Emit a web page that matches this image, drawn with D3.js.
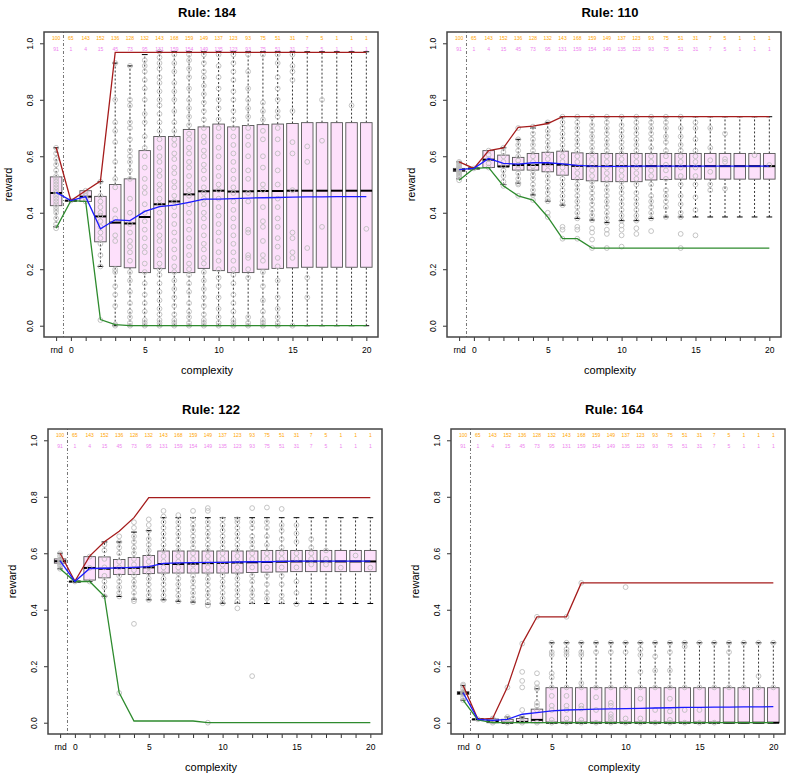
<!DOCTYPE html>
<html>
<head>
<meta charset="utf-8">
<script src="https://cdn.jsdelivr.net/npm/d3@7"></script>
<style>
  body { margin: 0; background: #fff; }
  svg { display: block; font-family: "Liberation Sans", Arial, Helvetica, sans-serif; }
</style>
</head>
<body>
<div id="chart"></div>
<script>
// complexity positions, -1 stands for "rnd"
const positions = d3.range(-1, 21);
const xTickLabels = { '-1': 'rnd', 0: '0', 5: '5', 10: '10', 15: '15', 20: '20' };
const yTicks = [0, 0.2, 0.4, 0.6, 0.8, 1.0];

const countsTop = [100, 65, 143, 152, 136, 128, 132, 143, 168, 159, 149, 137, 123, 93, 75, 51, 31, 7, 5, 1, 1, 1];
const countsBottom = [91, 1, 4, 15, 45, 73, 95, 131, 159, 154, 149, 135, 123, 93, 75, 51, 31, 7, 5, 1, 1, 1];

// ---- Rule 184 ----
// [lower whisker, q1, median, q3, upper whisker]
const stats184 = [
  [0.35, 0.425, 0.47, 0.527, 0.63],
  [0.443, 0.443, 0.443, 0.443, 0.443],
  [0.44, 0.44, 0.457, 0.478, 0.478],
  [0.21, 0.297, 0.387, 0.458, 0.51],
  [0.0, 0.21, 0.365, 0.50, 0.93],
  [0.0, 0.205, 0.362, 0.52, 0.92],
  [0.0, 0.188, 0.385, 0.62, 0.96],
  [0.0, 0.202, 0.43, 0.67, 0.97],
  [0.0, 0.188, 0.44, 0.67, 0.97],
  [0.0, 0.188, 0.465, 0.695, 0.97],
  [0.0, 0.203, 0.476, 0.704, 0.97],
  [0.0, 0.195, 0.478, 0.714, 0.97],
  [0.0, 0.188, 0.475, 0.704, 0.97],
  [0.0, 0.188, 0.476, 0.709, 0.97],
  [0.0, 0.2, 0.477, 0.712, 0.97],
  [0.0, 0.203, 0.477, 0.714, 0.97],
  [0.0, 0.205, 0.478, 0.716, 0.97],
  [0.0, 0.207, 0.478, 0.719, 0.97],
  [0.0, 0.207, 0.478, 0.719, 0.97],
  [0.0, 0.207, 0.478, 0.719, 0.97],
  [0.0, 0.207, 0.478, 0.719, 0.97],
  [0.0, 0.207, 0.478, 0.719, 0.97]
];
const max184 = [0.632, 0.443, 0.478, 0.512, 0.968, 0.968, 0.968, 0.968, 0.968, 0.968, 0.968, 0.968, 0.968, 0.968, 0.968, 0.968, 0.968, 0.968, 0.968, 0.968, 0.968, 0.968];
const min184 = [0.345, 0.443, 0.44, 0.022, 0.004, 0.0, 0.0, 0.0, 0.0, 0.0, 0.0, 0.0, 0.0, 0.0, 0.0, 0.0, 0.0, 0.0, 0.0, 0.0, 0.0, 0.0];
const mean184 = [0.472, 0.443, 0.457, 0.343, 0.375, 0.372, 0.405, 0.422, 0.427, 0.437, 0.448, 0.448, 0.45, 0.452, 0.453, 0.454, 0.455, 0.456, 0.456, 0.457, 0.457, 0.457];
const points184 = [
  [0.345, 0.36, 0.38, 0.40, 0.41, 0.42, 0.43, 0.44, 0.45, 0.46, 0.47, 0.48, 0.49, 0.50, 0.51, 0.52, 0.53, 0.55, 0.57, 0.59, 0.61, 0.63],
  [0.443],
  [0.44, 0.45, 0.46, 0.47, 0.478],
  [0.02, 0.21, 0.25, 0.29, 0.31, 0.33, 0.35, 0.37, 0.39, 0.40, 0.42, 0.44, 0.46, 0.51],
  [0.0, 0.005, 0.07, 0.11, 0.14, 0.19, 0.2, 0.3, 0.32, 0.38, 0.41, 0.49, 0.52, 0.58, 0.65, 0.69, 0.72, 0.8, 0.93],
  [0.0, 0.01, 0.03, 0.05, 0.08, 0.12, 0.16, 0.19, 0.23, 0.26, 0.28, 0.3, 0.33, 0.36, 0.4, 0.45, 0.52, 0.55, 0.58, 0.6, 0.62, 0.66, 0.7, 0.72, 0.78, 0.8, 0.92],
  [0.0, 0.01, 0.02, 0.05, 0.08, 0.11, 0.15, 0.19, 0.22, 0.26, 0.28, 0.31, 0.34, 0.37, 0.4, 0.43, 0.47, 0.49, 0.52, 0.56, 0.6, 0.63, 0.67, 0.72, 0.75, 0.8, 0.84, 0.87, 0.9, 0.92, 0.94],
  [0.0, 0.01, 0.02, 0.04, 0.06, 0.09, 0.12, 0.15, 0.18, 0.2, 0.22, 0.25, 0.27, 0.3, 0.32, 0.35, 0.37, 0.4, 0.43, 0.45, 0.48, 0.5, 0.53, 0.55, 0.58, 0.6, 0.63, 0.66, 0.69, 0.72, 0.75, 0.78, 0.8, 0.83, 0.86, 0.88, 0.91, 0.93, 0.95, 0.97],
  [0.0, 0.01, 0.02, 0.04, 0.07, 0.1, 0.13, 0.16, 0.19, 0.21, 0.24, 0.27, 0.3, 0.33, 0.36, 0.39, 0.42, 0.44, 0.46, 0.49, 0.51, 0.54, 0.56, 0.59, 0.61, 0.64, 0.66, 0.69, 0.72, 0.76, 0.8, 0.83, 0.86, 0.9, 0.93, 0.96],
  [0.0, 0.01, 0.03, 0.05, 0.08, 0.12, 0.15, 0.18, 0.2, 0.22, 0.25, 0.28, 0.31, 0.34, 0.37, 0.4, 0.43, 0.46, 0.48, 0.5, 0.53, 0.56, 0.58, 0.61, 0.63, 0.66, 0.68, 0.71, 0.74, 0.77, 0.8, 0.84, 0.88, 0.91, 0.94, 0.96],
  [0.0, 0.01, 0.02, 0.04, 0.07, 0.1, 0.13, 0.16, 0.19, 0.22, 0.24, 0.27, 0.29, 0.32, 0.35, 0.38, 0.4, 0.43, 0.45, 0.47, 0.49, 0.52, 0.55, 0.57, 0.6, 0.62, 0.65, 0.67, 0.7, 0.73, 0.76, 0.79, 0.82, 0.85, 0.88, 0.9, 0.93, 0.96],
  [0.0, 0.01, 0.03, 0.06, 0.1, 0.14, 0.17, 0.2, 0.23, 0.26, 0.3, 0.33, 0.36, 0.39, 0.42, 0.45, 0.48, 0.5, 0.53, 0.56, 0.6, 0.63, 0.67, 0.7, 0.73, 0.77, 0.8, 0.84, 0.88, 0.92, 0.96],
  [0.0, 0.01, 0.02, 0.05, 0.08, 0.11, 0.15, 0.18, 0.2, 0.23, 0.26, 0.29, 0.32, 0.35, 0.38, 0.41, 0.44, 0.47, 0.49, 0.52, 0.55, 0.58, 0.61, 0.64, 0.67, 0.7, 0.73, 0.76, 0.8, 0.83, 0.87, 0.9, 0.93, 0.96],
  [0.0, 0.01, 0.03, 0.17, 0.2, 0.24, 0.25, 0.33, 0.34, 0.44, 0.47, 0.52, 0.55, 0.6, 0.64, 0.67, 0.7, 0.74, 0.77, 0.8, 0.84, 0.9, 0.96],
  [0.0, 0.01, 0.02, 0.05, 0.09, 0.14, 0.19, 0.23, 0.25, 0.3, 0.35, 0.37, 0.42, 0.48, 0.5, 0.56, 0.6, 0.66, 0.69, 0.73, 0.76, 0.79, 0.96],
  [0.0, 0.01, 0.03, 0.06, 0.1, 0.16, 0.21, 0.24, 0.28, 0.31, 0.35, 0.38, 0.42, 0.45, 0.5, 0.55, 0.61, 0.66, 0.7, 0.74, 0.76, 0.8, 0.84, 0.88, 0.93, 0.96],
  [0.0, 0.24, 0.26, 0.31, 0.33, 0.48, 0.61, 0.65, 0.76, 0.87, 0.9, 0.92, 0.96],
  [0.1, 0.17, 0.275, 0.58, 0.635],
  [0.35, 0.655, 0.8],
  [],
  [0.78],
  [0.343]
];

// ---- Rule 110 ----
const stats110 = [
  [0.52, 0.546, 0.552, 0.557, 0.58],
  [0.557, 0.557, 0.557, 0.557, 0.557],
  [0.56, 0.56, 0.588, 0.62, 0.62],
  [0.50, 0.563, 0.564, 0.604, 0.63],
  [0.505, 0.551, 0.569, 0.596, 0.66],
  [0.463, 0.551, 0.569, 0.61, 0.70],
  [0.441, 0.545, 0.572, 0.614, 0.72],
  [0.427, 0.533, 0.57, 0.618, 0.74],
  [0.38, 0.518, 0.566, 0.612, 0.74],
  [0.374, 0.513, 0.565, 0.61, 0.74],
  [0.365, 0.51, 0.565, 0.61, 0.74],
  [0.372, 0.51, 0.565, 0.61, 0.74],
  [0.372, 0.51, 0.565, 0.61, 0.74],
  [0.38, 0.516, 0.565, 0.61, 0.74],
  [0.385, 0.518, 0.565, 0.61, 0.74],
  [0.385, 0.519, 0.565, 0.61, 0.74],
  [0.385, 0.519, 0.565, 0.61, 0.74],
  [0.385, 0.519, 0.565, 0.61, 0.74],
  [0.385, 0.519, 0.565, 0.61, 0.74],
  [0.385, 0.519, 0.565, 0.61, 0.74],
  [0.385, 0.519, 0.565, 0.61, 0.74],
  [0.385, 0.519, 0.565, 0.61, 0.74]
];
const max110 = [0.58, 0.557, 0.62, 0.63, 0.702, 0.707, 0.716, 0.74, 0.74, 0.74, 0.74, 0.74, 0.74, 0.74, 0.74, 0.74, 0.74, 0.74, 0.74, 0.74, 0.74, 0.74];
const min110 = [0.515, 0.557, 0.56, 0.495, 0.46, 0.445, 0.385, 0.308, 0.308, 0.275, 0.275, 0.275, 0.275, 0.275, 0.275, 0.275, 0.275, 0.275, 0.275, 0.275, 0.275, 0.275];
const mean110 = [0.553, 0.557, 0.592, 0.575, 0.572, 0.577, 0.577, 0.573, 0.568, 0.565, 0.564, 0.564, 0.565, 0.565, 0.565, 0.565, 0.565, 0.565, 0.565, 0.565, 0.565, 0.565];
const points110 = [
  [0.515, 0.525, 0.53, 0.535, 0.54, 0.545, 0.548, 0.55, 0.552, 0.555, 0.558, 0.56, 0.565, 0.57, 0.575, 0.58],
  [0.557],
  [0.56, 0.575, 0.59, 0.605, 0.62],
  [0.495, 0.51, 0.53, 0.55, 0.565, 0.58, 0.6, 0.615, 0.63],
  [0.46, 0.5, 0.505, 0.52, 0.54, 0.555, 0.57, 0.585, 0.6, 0.62, 0.64, 0.66, 0.70],
  [0.445, 0.463, 0.48, 0.5, 0.52, 0.535, 0.55, 0.565, 0.58, 0.6, 0.62, 0.64, 0.66, 0.68, 0.705],
  [0.385, 0.40, 0.441, 0.45, 0.47, 0.49, 0.51, 0.53, 0.55, 0.57, 0.59, 0.61, 0.63, 0.65, 0.67, 0.69, 0.72],
  [0.308, 0.34, 0.35, 0.427, 0.44, 0.46, 0.48, 0.5, 0.52, 0.54, 0.56, 0.58, 0.6, 0.62, 0.64, 0.66, 0.68, 0.7, 0.72, 0.74],
  [0.308, 0.34, 0.35, 0.38, 0.4, 0.42, 0.44, 0.46, 0.48, 0.5, 0.52, 0.54, 0.56, 0.58, 0.6, 0.62, 0.64, 0.66, 0.68, 0.7, 0.72, 0.74],
  [0.275, 0.305, 0.33, 0.345, 0.374, 0.39, 0.41, 0.43, 0.45, 0.47, 0.49, 0.51, 0.53, 0.55, 0.57, 0.59, 0.61, 0.63, 0.65, 0.67, 0.69, 0.71, 0.74],
  [0.275, 0.325, 0.34, 0.365, 0.38, 0.4, 0.42, 0.44, 0.46, 0.48, 0.5, 0.52, 0.54, 0.56, 0.58, 0.6, 0.62, 0.64, 0.66, 0.68, 0.7, 0.72, 0.74],
  [0.28, 0.32, 0.34, 0.355, 0.372, 0.39, 0.41, 0.43, 0.45, 0.47, 0.49, 0.51, 0.53, 0.55, 0.57, 0.59, 0.61, 0.63, 0.65, 0.67, 0.69, 0.71, 0.74],
  [0.325, 0.345, 0.372, 0.39, 0.41, 0.43, 0.45, 0.47, 0.5, 0.52, 0.54, 0.56, 0.58, 0.6, 0.62, 0.64, 0.66, 0.68, 0.7, 0.72, 0.74],
  [0.335, 0.38, 0.4, 0.42, 0.44, 0.46, 0.5, 0.53, 0.55, 0.58, 0.6, 0.63, 0.66, 0.68, 0.7, 0.72, 0.74],
  [0.385, 0.42, 0.44, 0.46, 0.48, 0.52, 0.55, 0.57, 0.6, 0.62, 0.65, 0.67, 0.7, 0.72, 0.74],
  [0.275, 0.325, 0.385, 0.4, 0.43, 0.46, 0.5, 0.53, 0.56, 0.58, 0.6, 0.62, 0.64, 0.67, 0.7, 0.74],
  [0.32, 0.41, 0.455, 0.5, 0.53, 0.56, 0.58, 0.6, 0.62, 0.66, 0.7, 0.72],
  [0.48, 0.5, 0.545, 0.586, 0.63, 0.7],
  [0.485, 0.58, 0.59, 0.68],
  [],
  [0.604],
  [0.569]
];

// ---- Rule 122 ----
const stats122 = [
  [0.545, 0.565, 0.572, 0.58, 0.60],
  [0.5, 0.5, 0.5, 0.5, 0.5],
  [0.5, 0.505, 0.548, 0.588, 0.588],
  [0.448, 0.513, 0.545, 0.587, 0.64],
  [0.447, 0.525, 0.548, 0.578, 0.64],
  [0.437, 0.525, 0.548, 0.585, 0.675],
  [0.435, 0.528, 0.55, 0.592, 0.68],
  [0.435, 0.53, 0.562, 0.608, 0.726],
  [0.43, 0.53, 0.562, 0.608, 0.726],
  [0.427, 0.53, 0.563, 0.608, 0.726],
  [0.42, 0.53, 0.565, 0.608, 0.726],
  [0.423, 0.53, 0.566, 0.608, 0.726],
  [0.423, 0.53, 0.567, 0.608, 0.726],
  [0.422, 0.532, 0.568, 0.608, 0.726],
  [0.422, 0.533, 0.569, 0.61, 0.726],
  [0.422, 0.534, 0.57, 0.61, 0.726],
  [0.422, 0.535, 0.571, 0.61, 0.726],
  [0.422, 0.535, 0.571, 0.61, 0.726],
  [0.422, 0.535, 0.571, 0.61, 0.726],
  [0.422, 0.535, 0.571, 0.61, 0.726],
  [0.422, 0.535, 0.571, 0.61, 0.726],
  [0.422, 0.535, 0.571, 0.61, 0.726]
];
const max122 = [0.60, 0.501, 0.59, 0.641, 0.678, 0.726, 0.797, 0.797, 0.797, 0.797, 0.797, 0.797, 0.797, 0.797, 0.797, 0.797, 0.797, 0.797, 0.797, 0.797, 0.797, 0.797];
const min122 = [0.545, 0.5, 0.5, 0.448, 0.106, 0.006, 0.006, 0.006, 0.006, 0.006, 0.0, 0.0, 0.0, 0.0, 0.0, 0.0, 0.0, 0.0, 0.0, 0.0, 0.0, 0.0];
const mean122 = [0.573, 0.5, 0.546, 0.547, 0.548, 0.55, 0.553, 0.564, 0.566, 0.567, 0.568, 0.568, 0.569, 0.57, 0.57, 0.571, 0.572, 0.572, 0.572, 0.572, 0.572, 0.572];
const points122 = [
  [0.545, 0.555, 0.56, 0.565, 0.57, 0.575, 0.58, 0.59, 0.6],
  [0.5],
  [0.5, 0.548, 0.588],
  [0.448, 0.48, 0.5, 0.52, 0.55, 0.58, 0.61, 0.63],
  [0.105, 0.447, 0.46, 0.48, 0.5, 0.52, 0.55, 0.57, 0.6, 0.62, 0.64, 0.66],
  [0.35, 0.43, 0.437, 0.46, 0.48, 0.5, 0.52, 0.54, 0.56, 0.58, 0.6, 0.62, 0.64, 0.66, 0.69, 0.71],
  [0.435, 0.45, 0.47, 0.49, 0.51, 0.53, 0.55, 0.57, 0.59, 0.61, 0.63, 0.65, 0.68, 0.7, 0.72],
  [0.435, 0.45, 0.47, 0.49, 0.51, 0.53, 0.55, 0.57, 0.59, 0.61, 0.63, 0.65, 0.67, 0.69, 0.71, 0.73, 0.75],
  [0.43, 0.45, 0.47, 0.49, 0.51, 0.53, 0.55, 0.57, 0.59, 0.61, 0.63, 0.65, 0.67, 0.69, 0.71, 0.735],
  [0.427, 0.44, 0.46, 0.48, 0.5, 0.52, 0.54, 0.56, 0.58, 0.6, 0.62, 0.64, 0.66, 0.68, 0.7, 0.72, 0.75],
  [0.0, 0.415, 0.43, 0.45, 0.47, 0.49, 0.51, 0.53, 0.55, 0.57, 0.59, 0.61, 0.63, 0.65, 0.67, 0.69, 0.71, 0.75, 0.76],
  [0.423, 0.44, 0.46, 0.48, 0.5, 0.52, 0.54, 0.56, 0.58, 0.6, 0.62, 0.64, 0.66, 0.68, 0.7, 0.72],
  [0.405, 0.43, 0.45, 0.47, 0.49, 0.51, 0.53, 0.55, 0.57, 0.59, 0.61, 0.63, 0.65, 0.67, 0.69, 0.71, 0.72],
  [0.165, 0.43, 0.45, 0.47, 0.5, 0.52, 0.55, 0.58, 0.6, 0.62, 0.64, 0.66, 0.69, 0.71, 0.76],
  [0.44, 0.46, 0.49, 0.52, 0.55, 0.58, 0.6, 0.63, 0.66, 0.69, 0.71, 0.762],
  [0.43, 0.45, 0.49, 0.52, 0.55, 0.58, 0.6, 0.62, 0.65, 0.68, 0.7, 0.757],
  [0.42, 0.46, 0.5, 0.55, 0.58, 0.6, 0.64, 0.67, 0.7],
  [0.56, 0.58, 0.6, 0.62, 0.65],
  [0.56, 0.58, 0.61],
  [0.549],
  [0.592],
  [0.549]
];

// ---- Rule 164 ----
const stats164 = [
  [0.08, 0.1, 0.105, 0.11, 0.132],
  [0.012, 0.012, 0.012, 0.012, 0.012],
  [0.0, 0.0, 0.005, 0.013, 0.015],
  [0.0, 0.0, 0.0, 0.012, 0.02],
  [0.0, 0.0, 0.003, 0.015, 0.02],
  [0.0, 0.0, 0.01, 0.048, 0.12],
  [0.0, 0.0, 0.0, 0.124, 0.283],
  [0.0, 0.0, 0.0, 0.124, 0.283],
  [0.0, 0.0, 0.0, 0.124, 0.283],
  [0.0, 0.0, 0.0, 0.124, 0.283],
  [0.0, 0.0, 0.0, 0.124, 0.283],
  [0.0, 0.0, 0.0, 0.124, 0.283],
  [0.0, 0.0, 0.0, 0.124, 0.283],
  [0.0, 0.0, 0.0, 0.124, 0.283],
  [0.0, 0.0, 0.0, 0.124, 0.283],
  [0.0, 0.0, 0.0, 0.124, 0.283],
  [0.0, 0.0, 0.0, 0.124, 0.283],
  [0.0, 0.0, 0.0, 0.124, 0.283],
  [0.0, 0.0, 0.0, 0.124, 0.283],
  [0.0, 0.0, 0.0, 0.124, 0.283],
  [0.0, 0.0, 0.0, 0.124, 0.283],
  [0.0, 0.0, 0.0, 0.124, 0.283]
];
const max164 = [0.132, 0.012, 0.015, 0.126, 0.28, 0.375, 0.375, 0.375, 0.495, 0.495, 0.495, 0.495, 0.495, 0.495, 0.495, 0.495, 0.495, 0.495, 0.495, 0.495, 0.495, 0.495];
const min164 = [0.08, 0.01, 0.0, 0.0, 0.0, 0.0, 0.0, 0.0, 0.0, 0.0, 0.0, 0.0, 0.0, 0.0, 0.0, 0.0, 0.0, 0.0, 0.0, 0.0, 0.0, 0.0];
const mean164 = [0.106, 0.012, 0.008, 0.012, 0.03, 0.036, 0.042, 0.045, 0.046, 0.048, 0.049, 0.05, 0.051, 0.052, 0.053, 0.054, 0.054, 0.055, 0.055, 0.056, 0.056, 0.057];
const points164 = [
  [0.08, 0.09, 0.1, 0.105, 0.11, 0.12, 0.13, 0.135],
  [0.012],
  [0.0, 0.005, 0.012, 0.015],
  [0.0, 0.012, 0.02, 0.125],
  [0.0, 0.005, 0.02, 0.045, 0.125, 0.148, 0.18, 0.28],
  [0.0, 0.045, 0.06, 0.07, 0.12, 0.125, 0.14, 0.175, 0.375],
  [0.0, 0.01, 0.045, 0.06, 0.095, 0.125, 0.16, 0.175, 0.24, 0.25, 0.283],
  [0.0, 0.015, 0.045, 0.06, 0.095, 0.125, 0.24, 0.25, 0.26, 0.283, 0.375],
  [0.0, 0.01, 0.05, 0.06, 0.125, 0.14, 0.24, 0.25, 0.283, 0.495],
  [0.0, 0.045, 0.09, 0.125, 0.25, 0.283],
  [0.0, 0.01, 0.02, 0.03, 0.06, 0.07, 0.125, 0.25, 0.283],
  [0.0, 0.015, 0.125, 0.25, 0.283, 0.48],
  [0.0, 0.015, 0.085, 0.125, 0.18, 0.24, 0.26, 0.283],
  [0.0, 0.045, 0.125, 0.185, 0.235, 0.283],
  [0.0, 0.01, 0.04, 0.085, 0.125, 0.185, 0.25, 0.283],
  [0.0, 0.045, 0.125, 0.27, 0.283],
  [0.0, 0.045, 0.125, 0.283],
  [0.0, 0.125, 0.283],
  [0.125, 0.25, 0.283],
  [0.125, 0.283],
  [0.125, 0.165, 0.283],
  [0.125, 0.283]
];

const panels = [
  { title: 'Rule: 184', left: 44, top: 32, stats: stats184, points: points184, max: max184, min: min184, mean: mean184 },
  { title: 'Rule: 110', left: 447, top: 32, stats: stats110, points: points110, max: max110, min: min110, mean: mean110 },
  { title: 'Rule: 122', left: 48, top: 429, stats: stats122, points: points122, max: max122, min: min122, mean: mean122 },
  { title: 'Rule: 164', left: 451, top: 429, stats: stats164, points: points164, max: max164, min: min164, mean: mean164 }
];

const width = 790, height = 779;
const plotW = 334, plotH = 305;

const svg = d3.select('#chart').append('svg')
  .attr('width', width)
  .attr('height', height)
  .attr('viewBox', `0 0 ${width} ${height}`);

svg.append('rect').attr('width', width).attr('height', height).attr('fill', '#fff');

const x = d3.scaleLinear().domain([-1.82, 20.79]).range([0, plotW]);
const y = d3.scaleLinear().domain([-0.04, 1.04]).range([plotH, 0]);
const boxW = (x(1) - x(0)) * 0.78;

panels.forEach(p => drawPanel(p));

function drawPanel(p) {
  const g = svg.append('g').attr('transform', `translate(${p.left},${p.top})`);

  // title
  g.append('text')
    .attr('x', plotW / 2 - 4)
    .attr('y', -15)
    .attr('text-anchor', 'middle')
    .attr('font-size', 13)
    .attr('font-weight', 'bold')
    .attr('fill', '#000')
    .text(p.title);

  // boxes
  const boxes = g.append('g').selectAll('g')
    .data(p.stats)
    .join('g')
    .attr('transform', (d, i) => `translate(${x(positions[i])},0)`);

  // whiskers
  boxes.append('line')
    .attr('y1', d => y(d[0])).attr('y2', d => y(d[1]))
    .attr('stroke', '#000').attr('stroke-width', 0.8).attr('stroke-dasharray', '2,2');
  boxes.append('line')
    .attr('y1', d => y(d[3])).attr('y2', d => y(d[4]))
    .attr('stroke', '#000').attr('stroke-width', 0.8).attr('stroke-dasharray', '2,2');
  boxes.append('line')
    .attr('x1', -boxW / 4).attr('x2', boxW / 4)
    .attr('y1', d => y(d[0])).attr('y2', d => y(d[0]))
    .attr('stroke', '#000').attr('stroke-width', 1);
  boxes.append('line')
    .attr('x1', -boxW / 4).attr('x2', boxW / 4)
    .attr('y1', d => y(d[4])).attr('y2', d => y(d[4]))
    .attr('stroke', '#000').attr('stroke-width', 1);

  boxes.append('rect')
    .attr('x', -boxW / 2)
    .attr('width', boxW)
    .attr('y', d => y(d[3]))
    .attr('height', d => Math.max(0.5, y(d[1]) - y(d[3])))
    .attr('fill', '#fde0fb')
    .attr('stroke', '#555')
    .attr('stroke-width', 0.9);

  boxes.append('line')
    .attr('x1', -boxW / 2).attr('x2', boxW / 2)
    .attr('y1', d => y(d[2])).attr('y2', d => y(d[2]))
    .attr('stroke', '#000').attr('stroke-width', 2);

  // individual points
  const pts = [];
  p.points.forEach((vals, i) => vals.forEach(v => pts.push({ pos: positions[i], v })));
  g.append('g').selectAll('circle')
    .data(pts)
    .join('circle')
    .attr('cx', d => x(d.pos))
    .attr('cy', d => y(d.v))
    .attr('r', 2.4)
    .attr('fill', 'none')
    .attr('stroke', '#bdbdbd')
    .attr('stroke-width', 0.9);

  // separator between rnd and complexity 0
  g.append('line')
    .attr('x1', x(-0.5)).attr('x2', x(-0.5))
    .attr('y1', 0).attr('y2', plotH)
    .attr('stroke', '#666')
    .attr('stroke-width', 0.9)
    .attr('stroke-dasharray', '1,2,3,2');

  // max / min / mean lines
  const line = d3.line().x((d, i) => x(positions[i])).y(d => y(d));
  [[p.max, '#a51c1c'], [p.min, '#2e8b2e'], [p.mean, '#1a1aff']].forEach(([vals, col]) => {
    g.append('path')
      .datum(vals)
      .attr('d', line)
      .attr('fill', 'none')
      .attr('stroke', col)
      .attr('stroke-width', 1.3);
  });

  // count rows
  g.append('g').selectAll('text')
    .data(countsTop)
    .join('text')
    .attr('x', (d, i) => x(positions[i]))
    .attr('y', y(1.02) + 2)
    .attr('text-anchor', 'middle')
    .attr('font-size', 5)
    .attr('fill', '#ffa500')
    .text(d => d);
  g.append('g').selectAll('text')
    .data(countsBottom)
    .join('text')
    .attr('x', (d, i) => x(positions[i]))
    .attr('y', y(0.981) + 2)
    .attr('text-anchor', 'middle')
    .attr('font-size', 5)
    .attr('fill', '#ee82ee')
    .text(d => d);

  // axes
  const xAxis = g.append('g')
    .attr('transform', `translate(0,${plotH})`)
    .call(d3.axisBottom(x)
      .tickValues(positions)
      .tickSize(4)
      .tickPadding(6)
      .tickFormat(d => xTickLabels[d] !== undefined ? xTickLabels[d] : ''));
  xAxis.select('.domain').remove();
  xAxis.selectAll('line').attr('stroke', '#333');
  xAxis.selectAll('text').attr('font-size', 8.5).attr('fill', '#000').attr('font-family', null);

  const yAxis = g.append('g')
    .call(d3.axisLeft(y)
      .tickValues(yTicks)
      .tickSize(4)
      .tickFormat(d3.format('.1f')));
  yAxis.select('.domain').remove();
  yAxis.selectAll('line').attr('stroke', '#333');
  yAxis.selectAll('text')
    .attr('x', 0)
    .attr('dy', 0)
    .attr('transform', 'translate(-11,0) rotate(-90)')
    .attr('text-anchor', 'middle')
    .attr('font-size', 8.5)
    .attr('fill', '#000')
    .attr('font-family', null);

  // frame
  g.append('rect')
    .attr('width', plotW)
    .attr('height', plotH)
    .attr('fill', 'none')
    .attr('stroke', '#444')
    .attr('stroke-width', 1.5);

  // axis titles
  g.append('text')
    .attr('x', plotW / 2 - 4)
    .attr('y', plotH + 37)
    .attr('text-anchor', 'middle')
    .attr('font-size', 11)
    .text('complexity');
  g.append('text')
    .attr('transform', `translate(-32,${plotH / 2}) rotate(-90)`)
    .attr('text-anchor', 'middle')
    .attr('font-size', 11)
    .text('reward');
}
</script>
</body>
</html>
